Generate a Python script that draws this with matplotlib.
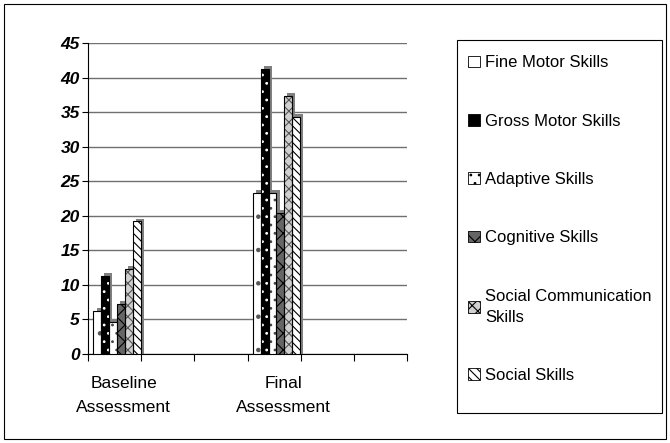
import matplotlib
matplotlib.use("Agg")
import matplotlib.pyplot as plt
from matplotlib.patches import Rectangle, Patch

plt.rcParams['font.family'] = ['Liberation Sans', 'DejaVu Sans']
plt.rcParams['hatch.linewidth'] = 0.8

categories = ["Baseline\nAssessment", "Final\nAssessment"]
series = ["Fine Motor Skills", "Gross Motor Skills", "Adaptive Skills",
          "Cognitive Skills", "Social Communication\nSkills", "Social Skills"]
baseline = [6.2, 11.3, 4.6, 7.3, 12.3, 19.2]
final = [23.3, 41.3, 23.3, 20.4, 37.4, 34.3]
values = [baseline, final]
yticks = [0, 5, 10, 15, 20, 25, 30, 35, 40, 45]

# face, hatch colour, hatch
styles = [("white", "#555555", "."),
          ("black", "white", ".."),
          ("white", "#444444", ".."),
          ("#666666", "black", "xx"),
          ("#d0d0d0", "#555555", "xxx"),
          ("white", "black", "\\\\\\\\")]

fig = plt.figure(figsize=(6.7, 4.43), dpi=100)
fig.patches.append(Rectangle((0.006, 0.01), 0.988, 0.98, transform=fig.transFigure,
                             fill=False, edgecolor="black", lw=0.8))
ax = fig.add_axes([88/670, 1-354/443, (407-88)/670, (354-43)/443])

slot_step = 3
w = 0.148
for ci, vals in enumerate(values):
    start = ci*slot_step + 0.1
    for si, v in enumerate(vals):
        face, hc, hatch = styles[si]
        x = start + si*w
        # depth shading
        ax.bar(x + 0.06, v + 0.4, w, align="edge", color="#808080", lw=0, zorder=2)
        ax.bar(x, v, w, align="edge", color=face, edgecolor=hc, hatch=hatch, lw=0, zorder=3)
        ax.bar(x, v, w, align="edge", fill=False, edgecolor="black", lw=0.8, zorder=4)

ax.set_xlim(0, 6)
ax.set_ylim(0, 45)
ax.set_yticks(yticks)
ax.set_yticklabels([str(t) for t in yticks], fontsize=12.5, fontweight="bold", fontstyle="italic")
ax.set_xticks(range(7))
ax.set_xticklabels([])
ax.set_xticks([ci*slot_step + 0.67 for ci in range(len(categories))], minor=True)
ax.set_xticklabels(categories, minor=True, fontsize=12.5, linespacing=1.7)
ax.tick_params(axis="x", which="minor", length=0, pad=16)
ax.tick_params(axis="x", which="major", length=5, direction="out")
ax.tick_params(axis="y", length=4, direction="out", pad=2)
ax.yaxis.grid(True, color="#707070", lw=1)
ax.set_axisbelow(True)
for s in ["top", "right"]:
    ax.spines[s].set_visible(False)
ax.spines["left"].set_linewidth(0.8)
ax.spines["bottom"].set_linewidth(0.8)

# legend box
fig.patches.append(Rectangle((457/670, 1-413/443), (662-457)/670, (413-40)/443,
                             transform=fig.transFigure, fill=False, edgecolor="black", lw=0.8))
handles = [Patch(facecolor=f, edgecolor="black", hatch=h, lw=0.6) for f, hc, h in styles]
leg = fig.legend(handles, series, loc="upper left", bbox_to_anchor=(460/670, 1-47/443),
                 frameon=False, fontsize=12, labelspacing=2.6, handlelength=0.7,
                 handleheight=0.7, handletextpad=0.3, borderpad=0)
for t in leg.get_texts():
    t.set_linespacing(1.5)

fig.savefig("out.png", dpi=100)
